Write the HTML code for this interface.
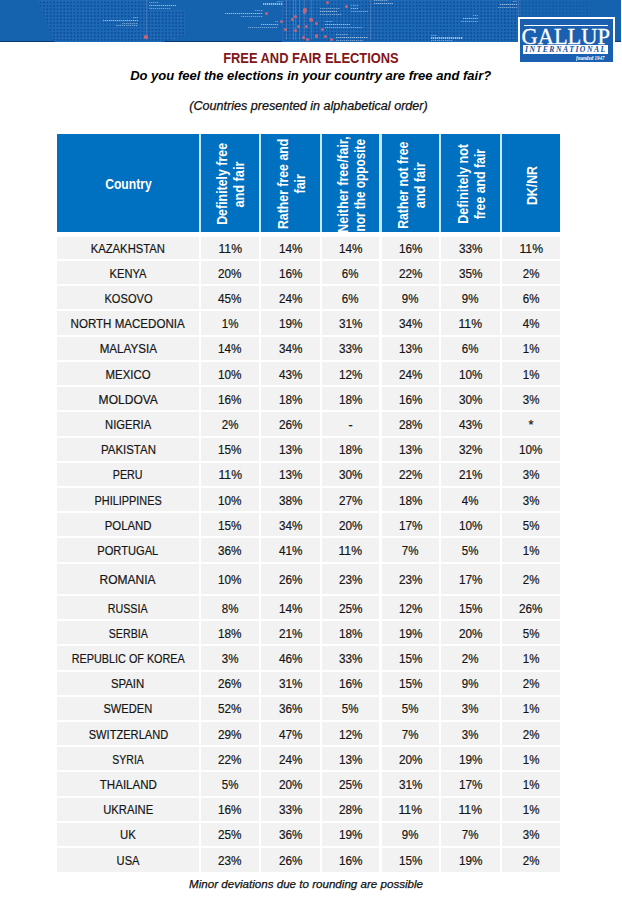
<!DOCTYPE html>
<html><head><meta charset="utf-8">
<style>
html,body{margin:0;padding:0;background:#fff;}
body{width:622px;height:900px;position:relative;overflow:hidden;font-family:"Liberation Sans",sans-serif;}
.s{display:inline-block;white-space:nowrap;transform-origin:50% 50%}
.banner{position:absolute;left:0;top:0;width:620.5px;height:42.4px;background:#1562ae;overflow:hidden;box-shadow:inset 0 -1px 0 rgba(0,30,80,0.6)}
.grid{position:absolute;top:0;height:43px;
 background-image:linear-gradient(to right, #1c69b5 0 1.3px, transparent 1.3px), linear-gradient(to bottom, #1c69b5 0 1.3px, #0f4d9b 1.3px);
 background-size:3.4px 3.4px}
.lb{position:absolute;background:repeating-linear-gradient(90deg,#e8f2ff 0 1.3px,rgba(232,242,255,0.35) 1.3px 2px)}
.rd{position:absolute;width:3.2px;height:3.2px;border-radius:50%;background:#c9647a}
.vl{position:absolute;top:0;width:1px;height:40px;background:rgba(140,150,210,0.35)}
.logo{position:absolute;left:517.5px;top:16.5px;width:93.2px;height:43.5px;border:2px solid #fff;background:#1b5fb0;overflow:hidden}
.lgline{position:absolute;left:4.3px;top:6.8px;width:84.5px;height:1.2px;background:#fff}
.lgt{position:absolute;left:-0.5px;width:94px;top:7px;text-align:center;font-family:"Liberation Serif",serif;font-size:22.7px;line-height:1;color:#fff}
.lgt span{display:inline-block;transform:scaleX(0.99);-webkit-text-stroke:0.3px #fff}
.lgband{position:absolute;left:3.8px;top:26.8px;width:85.2px;height:8.9px;background:#fff;font-family:"Liberation Serif",serif;font-style:italic;font-weight:bold;font-size:8.3px;line-height:8.8px;color:#1b4f9c;letter-spacing:1.6px;text-align:left}
.lgband span{position:absolute;left:2.2px;top:0.8px;transform:scaleX(0.928);transform-origin:0 0;white-space:nowrap}
.lgf{position:absolute;left:56px;top:37px;transform:scaleX(0.86);transform-origin:0 0;font-family:"Liberation Serif",serif;font-style:italic;font-weight:bold;font-size:5.9px;line-height:1;color:#fff;white-space:nowrap}
.t{position:absolute;width:600px;text-align:center;white-space:nowrap;line-height:1}
.hc{position:absolute;background:#0070c0;color:#fff;font-weight:bold;overflow:hidden}
.ctw{position:absolute;left:0;right:0;top:44.3px;text-align:center;font-size:13.8px;line-height:1}
.rot{position:absolute;transform:rotate(-90deg);display:flex;align-items:center;justify-content:center;text-align:center;font-size:13.8px;line-height:16.8px;white-space:nowrap}
.c{position:absolute;background:#f2f2f2;color:#151515;display:flex;align-items:center;justify-content:center;font-size:12.7px;line-height:1}
.c .s{position:relative;top:1.6px;-webkit-text-stroke:0.2px #151515}
</style></head><body>
<div class="banner">
<div class="grid" style="left:38px;width:150px;clip-path:polygon(0 0,112px 0,114px 10px,147px 10px,147px 36px,120px 43px,17px 43px)"></div>
<div class="grid" style="left:282px;width:240px;clip-path:polygon(0 0,100% 0,100% 100%,0 100%)"></div>
<div class="grid" style="left:240px;width:42px;top:0;height:30px;opacity:0.0"></div>
<div class="grid" style="left:520px;width:70px;height:20px;opacity:0.45"></div>
<div class="vl" style="left:146.0px"></div>
<div class="vl" style="left:285.7px"></div>
<div class="vl" style="left:292.7px"></div>
<div class="vl" style="left:295.3px"></div>
<div class="vl" style="left:298.5px"></div>
<div class="vl" style="left:304.3px"></div>
<div class="vl" style="left:310.7px"></div>
<div class="vl" style="left:370.2px"></div>
<div class="vl" style="left:518.0px"></div>
<div class="lb" style="left:148.5px;top:2.0px;width:10px;height:1.0px;opacity:0.42"></div>
<div class="lb" style="left:148.5px;top:4.8px;width:27px;height:1.3px;opacity:0.6"></div>
<div class="lb" style="left:148.5px;top:7.6px;width:22px;height:1.0px;opacity:0.42"></div>
<div class="lb" style="left:133.0px;top:17.0px;width:5px;height:1.0px;opacity:0.42"></div>
<div class="lb" style="left:103.0px;top:19.8px;width:35px;height:1.3px;opacity:0.6"></div>
<div class="lb" style="left:122.0px;top:22.6px;width:16px;height:1.0px;opacity:0.42"></div>
<div class="lb" style="left:116.0px;top:25.4px;width:22px;height:1.0px;opacity:0.42"></div>
<div class="lb" style="left:277.0px;top:0.5px;width:6px;height:1.0px;opacity:0.42"></div>
<div class="lb" style="left:263.0px;top:3.3px;width:20px;height:1.3px;opacity:0.6"></div>
<div class="lb" style="left:255.0px;top:10.0px;width:8px;height:1.0px;opacity:0.42"></div>
<div class="lb" style="left:225.0px;top:12.8px;width:38px;height:1.3px;opacity:0.6"></div>
<div class="lb" style="left:241.0px;top:15.6px;width:22px;height:1.0px;opacity:0.42"></div>
<div class="lb" style="left:275.0px;top:21.0px;width:3px;height:1.0px;opacity:0.42"></div>
<div class="lb" style="left:261.0px;top:23.8px;width:17px;height:1.3px;opacity:0.6"></div>
<div class="lb" style="left:248.0px;top:26.6px;width:30px;height:1.0px;opacity:0.42"></div>
<div class="lb" style="left:320.0px;top:8.0px;width:20px;height:1.0px;opacity:0.42"></div>
<div class="lb" style="left:320.0px;top:10.8px;width:17px;height:1.3px;opacity:0.6"></div>
<div class="lb" style="left:320.0px;top:13.6px;width:22px;height:1.0px;opacity:0.42"></div>
<div class="lb" style="left:351.0px;top:5.0px;width:8px;height:1.0px;opacity:0.42"></div>
<div class="lb" style="left:351.0px;top:7.8px;width:7px;height:1.3px;opacity:0.6"></div>
<div class="lb" style="left:351.0px;top:10.6px;width:17px;height:1.0px;opacity:0.42"></div>
<div class="lb" style="left:325.0px;top:21.0px;width:8px;height:1.0px;opacity:0.42"></div>
<div class="lb" style="left:325.0px;top:23.8px;width:25px;height:1.3px;opacity:0.6"></div>
<div class="lb" style="left:325.0px;top:26.6px;width:38px;height:1.0px;opacity:0.42"></div>
<div class="lb" style="left:336.0px;top:34.0px;width:12px;height:1.0px;opacity:0.42"></div>
<div class="lb" style="left:336.0px;top:36.8px;width:32px;height:1.3px;opacity:0.6"></div>
<div class="lb" style="left:336.0px;top:39.6px;width:27px;height:1.0px;opacity:0.42"></div>
<div class="lb" style="left:374.0px;top:0.0px;width:14px;height:1.0px;opacity:0.42"></div>
<div class="lb" style="left:374.0px;top:2.8px;width:19px;height:1.3px;opacity:0.6"></div>
<div class="lb" style="left:513.0px;top:1.0px;width:4px;height:1.0px;opacity:0.42"></div>
<div class="lb" style="left:500.0px;top:3.8px;width:17px;height:1.3px;opacity:0.6"></div>
<div class="lb" style="left:498.0px;top:6.6px;width:19px;height:1.0px;opacity:0.42"></div>
<div class="lb" style="left:473.0px;top:15.0px;width:5px;height:1.0px;opacity:0.42"></div>
<div class="lb" style="left:463.0px;top:17.8px;width:15px;height:1.3px;opacity:0.6"></div>
<div class="lb" style="left:461.0px;top:20.6px;width:17px;height:1.0px;opacity:0.42"></div>
<div class="lb" style="left:431.0px;top:34.5px;width:6px;height:1.0px;opacity:0.42"></div>
<div class="lb" style="left:431.0px;top:37.3px;width:32px;height:1.3px;opacity:0.6"></div>
<div class="lb" style="left:431.0px;top:40.1px;width:22px;height:1.0px;opacity:0.42"></div>
<div class="rd" style="left:144.4px;top:35.4px"></div>
<div class="rd" style="left:264.8px;top:11.9px"></div>
<div class="rd" style="left:280.2px;top:20.3px"></div>
<div class="rd" style="left:284.1px;top:28.0px"></div>
<div class="rd" style="left:291.1px;top:18.3px"></div>
<div class="rd" style="left:293.7px;top:15.1px"></div>
<div class="rd" style="left:296.9px;top:24.8px"></div>
<div class="rd" style="left:293.7px;top:28.6px"></div>
<div class="rd" style="left:302.7px;top:11.3px"></div>
<div class="rd" style="left:305.3px;top:24.8px"></div>
<div class="rd" style="left:308.5px;top:17.7px"></div>
<div class="rd" style="left:314.9px;top:21.6px"></div>
<div class="rd" style="left:314.9px;top:34.4px"></div>
<div class="rd" style="left:305.9px;top:37.6px"></div>
<div class="rd" style="left:326.1px;top:1.0px"></div>
<div class="rd" style="left:344.8px;top:4.8px"></div>
<div class="rd" style="left:323.5px;top:35.1px"></div>
<div class="rd" style="left:330.0px;top:37.6px"></div>
<div class="rd" style="left:303.4px;top:8.4px"></div>
<div class="rd" style="left:309.6px;top:18.4px"></div>
<div class="rd" style="left:320.8px;top:28.3px"></div>
<div class="rd" style="left:302.1px;top:35.8px"></div>
</div>
<div class="logo"><div class="lgline"></div><div class="lgt"><span>GALLUP</span></div><div class="lgband"><span>INTERNATIONAL</span></div><div class="lgf">founded 1947</div></div>
<div class="t" style="top:49.9px;left:11px;font-size:15.4px;font-weight:bold;color:#821619;"><span class="s" style="transform:scaleX(0.8367);">FREE AND FAIR ELECTIONS</span></div>
<div class="t" style="top:69.1px;left:10.5px;font-size:13.4px;font-weight:bold;font-style:italic;color:#000;"><span class="s" style="transform:scaleX(0.9723);">Do you feel the elections in your country are free and fair?</span></div>
<div class="t" style="top:100.3px;left:8.5px;font-size:12.5px;font-style:italic;color:#111;-webkit-text-stroke:0.25px #111;"><span class="s" style="transform:scaleX(1.0066);">(Countries presented in alphabetical order)</span></div>
<div style="position:absolute;left:57px;top:133.8px;width:503px;height:98.69999999999999px;background:#c4ebfb"></div>
<div class="hc" style="left:57.00px;top:133.80px;width:142.00px;height:98.70px;"><div class="ctw"><span class="s" style="transform:scaleX(0.8793);">Country</span></div></div>
<div class="hc" style="left:201.00px;top:133.80px;width:58.30px;height:98.70px;"><div class="rot" style="width:98.70px;height:58.30px;left:-17.70px;top:21.70px"><div><div class="hl"><span class="s" style="transform:scaleX(0.8976);">Definitely free</span></div><div class="hl"><span class="s" style="transform:scaleX(0.9211);">and fair</span></div></div></div></div>
<div class="hc" style="left:261.30px;top:133.80px;width:58.30px;height:98.70px;"><div class="rot" style="width:98.70px;height:58.30px;left:-17.70px;top:21.70px"><div><div class="hl"><span class="s" style="transform:scaleX(0.8922);">Rather free and</span></div><div class="hl"><span class="s" style="transform:scaleX(0.8989);">fair</span></div></div></div></div>
<div class="hc" style="left:321.60px;top:133.80px;width:57.90px;height:98.70px;"><div class="rot" style="width:98.70px;height:57.90px;left:-17.90px;top:21.90px"><div><div class="hl"><span class="s" style="transform:scaleX(0.9186);">Neither free/fair,</span></div><div class="hl"><span class="s" style="transform:scaleX(0.8559);">nor the opposite</span></div></div></div></div>
<div class="hc" style="left:381.50px;top:133.80px;width:57.90px;height:98.70px;"><div class="rot" style="width:98.70px;height:57.90px;left:-17.90px;top:21.90px"><div><div class="hl"><span class="s" style="transform:scaleX(0.8886);">Rather not free</span></div><div class="hl"><span class="s" style="transform:scaleX(0.9211);">and fair</span></div></div></div></div>
<div class="hc" style="left:441.40px;top:133.80px;width:58.50px;height:98.70px;"><div class="rot" style="width:98.70px;height:58.50px;left:-17.60px;top:21.60px"><div><div class="hl"><span class="s" style="transform:scaleX(0.9144);">Definitely not</span></div><div class="hl"><span class="s" style="transform:scaleX(0.8927);">free and fair</span></div></div></div></div>
<div class="hc" style="left:501.90px;top:133.80px;width:58.10px;height:98.70px;"><div class="rot" style="width:98.70px;height:58.10px;left:-17.80px;top:21.80px"><div><div class="hl"><span class="s" style="transform:scaleX(0.8950);">DK/NR</span></div></div></div></div>
<div class="c" style="left:57.00px;top:237.00px;width:142.00px;height:22.00px;"><span class="s" style="transform:scaleX(0.8876);">KAZAKHSTAN</span></div>
<div class="c" style="left:201.00px;top:237.00px;width:58.30px;height:22.00px;"><span class="s" style="transform:scaleX(0.9628);">11%</span></div>
<div class="c" style="left:261.30px;top:237.00px;width:58.30px;height:22.00px;"><span class="s" style="transform:scaleX(0.9271);">14%</span></div>
<div class="c" style="left:321.60px;top:237.00px;width:57.90px;height:22.00px;"><span class="s" style="transform:scaleX(0.9271);">14%</span></div>
<div class="c" style="left:381.50px;top:237.00px;width:57.90px;height:22.00px;"><span class="s" style="transform:scaleX(0.9271);">16%</span></div>
<div class="c" style="left:441.40px;top:237.00px;width:58.50px;height:22.00px;"><span class="s" style="transform:scaleX(0.9271);">33%</span></div>
<div class="c" style="left:501.90px;top:237.00px;width:58.10px;height:22.00px;"><span class="s" style="transform:scaleX(0.9628);">11%</span></div>
<div class="c" style="left:57.00px;top:261.00px;width:142.00px;height:23.00px;"><span class="s" style="transform:scaleX(0.8793);">KENYA</span></div>
<div class="c" style="left:201.00px;top:261.00px;width:58.30px;height:23.00px;"><span class="s" style="transform:scaleX(0.9271);">20%</span></div>
<div class="c" style="left:261.30px;top:261.00px;width:58.30px;height:23.00px;"><span class="s" style="transform:scaleX(0.9271);">16%</span></div>
<div class="c" style="left:321.60px;top:261.00px;width:57.90px;height:23.00px;"><span class="s" style="transform:scaleX(0.9078);">6%</span></div>
<div class="c" style="left:381.50px;top:261.00px;width:57.90px;height:23.00px;"><span class="s" style="transform:scaleX(0.9271);">22%</span></div>
<div class="c" style="left:441.40px;top:261.00px;width:58.50px;height:23.00px;"><span class="s" style="transform:scaleX(0.9271);">35%</span></div>
<div class="c" style="left:501.90px;top:261.00px;width:58.10px;height:23.00px;"><span class="s" style="transform:scaleX(0.9078);">2%</span></div>
<div class="c" style="left:57.00px;top:286.00px;width:142.00px;height:23.00px;"><span class="s" style="transform:scaleX(0.8735);">KOSOVO</span></div>
<div class="c" style="left:201.00px;top:286.00px;width:58.30px;height:23.00px;"><span class="s" style="transform:scaleX(0.9271);">45%</span></div>
<div class="c" style="left:261.30px;top:286.00px;width:58.30px;height:23.00px;"><span class="s" style="transform:scaleX(0.9271);">24%</span></div>
<div class="c" style="left:321.60px;top:286.00px;width:57.90px;height:23.00px;"><span class="s" style="transform:scaleX(0.9078);">6%</span></div>
<div class="c" style="left:381.50px;top:286.00px;width:57.90px;height:23.00px;"><span class="s" style="transform:scaleX(0.9078);">9%</span></div>
<div class="c" style="left:441.40px;top:286.00px;width:58.50px;height:23.00px;"><span class="s" style="transform:scaleX(0.9078);">9%</span></div>
<div class="c" style="left:501.90px;top:286.00px;width:58.10px;height:23.00px;"><span class="s" style="transform:scaleX(0.9078);">6%</span></div>
<div class="c" style="left:57.00px;top:311.00px;width:142.00px;height:23.50px;"><span class="s" style="transform:scaleX(0.9117);">NORTH MACEDONIA</span></div>
<div class="c" style="left:201.00px;top:311.00px;width:58.30px;height:23.50px;"><span class="s" style="transform:scaleX(0.9078);">1%</span></div>
<div class="c" style="left:261.30px;top:311.00px;width:58.30px;height:23.50px;"><span class="s" style="transform:scaleX(0.9271);">19%</span></div>
<div class="c" style="left:321.60px;top:311.00px;width:57.90px;height:23.50px;"><span class="s" style="transform:scaleX(0.9271);">31%</span></div>
<div class="c" style="left:381.50px;top:311.00px;width:57.90px;height:23.50px;"><span class="s" style="transform:scaleX(0.9271);">34%</span></div>
<div class="c" style="left:441.40px;top:311.00px;width:58.50px;height:23.50px;"><span class="s" style="transform:scaleX(0.9628);">11%</span></div>
<div class="c" style="left:501.90px;top:311.00px;width:58.10px;height:23.50px;"><span class="s" style="transform:scaleX(0.9078);">4%</span></div>
<div class="c" style="left:57.00px;top:336.50px;width:142.00px;height:23.50px;"><span class="s" style="transform:scaleX(0.9158);">MALAYSIA</span></div>
<div class="c" style="left:201.00px;top:336.50px;width:58.30px;height:23.50px;"><span class="s" style="transform:scaleX(0.9271);">14%</span></div>
<div class="c" style="left:261.30px;top:336.50px;width:58.30px;height:23.50px;"><span class="s" style="transform:scaleX(0.9271);">34%</span></div>
<div class="c" style="left:321.60px;top:336.50px;width:57.90px;height:23.50px;"><span class="s" style="transform:scaleX(0.9271);">33%</span></div>
<div class="c" style="left:381.50px;top:336.50px;width:57.90px;height:23.50px;"><span class="s" style="transform:scaleX(0.9271);">13%</span></div>
<div class="c" style="left:441.40px;top:336.50px;width:58.50px;height:23.50px;"><span class="s" style="transform:scaleX(0.9078);">6%</span></div>
<div class="c" style="left:501.90px;top:336.50px;width:58.10px;height:23.50px;"><span class="s" style="transform:scaleX(0.9078);">1%</span></div>
<div class="c" style="left:57.00px;top:362.00px;width:142.00px;height:23.00px;"><span class="s" style="transform:scaleX(0.8991);">MEXICO</span></div>
<div class="c" style="left:201.00px;top:362.00px;width:58.30px;height:23.00px;"><span class="s" style="transform:scaleX(0.9271);">10%</span></div>
<div class="c" style="left:261.30px;top:362.00px;width:58.30px;height:23.00px;"><span class="s" style="transform:scaleX(0.9271);">43%</span></div>
<div class="c" style="left:321.60px;top:362.00px;width:57.90px;height:23.00px;"><span class="s" style="transform:scaleX(0.9271);">12%</span></div>
<div class="c" style="left:381.50px;top:362.00px;width:57.90px;height:23.00px;"><span class="s" style="transform:scaleX(0.9271);">24%</span></div>
<div class="c" style="left:441.40px;top:362.00px;width:58.50px;height:23.00px;"><span class="s" style="transform:scaleX(0.9271);">10%</span></div>
<div class="c" style="left:501.90px;top:362.00px;width:58.10px;height:23.00px;"><span class="s" style="transform:scaleX(0.9078);">1%</span></div>
<div class="c" style="left:57.00px;top:387.00px;width:142.00px;height:23.00px;"><span class="s" style="transform:scaleX(0.9486);">MOLDOVA</span></div>
<div class="c" style="left:201.00px;top:387.00px;width:58.30px;height:23.00px;"><span class="s" style="transform:scaleX(0.9271);">16%</span></div>
<div class="c" style="left:261.30px;top:387.00px;width:58.30px;height:23.00px;"><span class="s" style="transform:scaleX(0.9271);">18%</span></div>
<div class="c" style="left:321.60px;top:387.00px;width:57.90px;height:23.00px;"><span class="s" style="transform:scaleX(0.9271);">18%</span></div>
<div class="c" style="left:381.50px;top:387.00px;width:57.90px;height:23.00px;"><span class="s" style="transform:scaleX(0.9271);">16%</span></div>
<div class="c" style="left:441.40px;top:387.00px;width:58.50px;height:23.00px;"><span class="s" style="transform:scaleX(0.9271);">30%</span></div>
<div class="c" style="left:501.90px;top:387.00px;width:58.10px;height:23.00px;"><span class="s" style="transform:scaleX(0.9078);">3%</span></div>
<div class="c" style="left:57.00px;top:412.00px;width:142.00px;height:23.50px;"><span class="s" style="transform:scaleX(0.8840);">NIGERIA</span></div>
<div class="c" style="left:201.00px;top:412.00px;width:58.30px;height:23.50px;"><span class="s" style="transform:scaleX(0.9078);">2%</span></div>
<div class="c" style="left:261.30px;top:412.00px;width:58.30px;height:23.50px;"><span class="s" style="transform:scaleX(0.9271);">26%</span></div>
<div class="c" style="left:321.60px;top:412.00px;width:57.90px;height:23.50px;"><span class="s" style="transform:scaleX(1.0000);">-</span></div>
<div class="c" style="left:381.50px;top:412.00px;width:57.90px;height:23.50px;"><span class="s" style="transform:scaleX(0.9271);">28%</span></div>
<div class="c" style="left:441.40px;top:412.00px;width:58.50px;height:23.50px;"><span class="s" style="transform:scaleX(0.9271);">43%</span></div>
<div class="c" style="left:501.90px;top:412.00px;width:58.10px;height:23.50px;"><span class="s" style="transform:scaleX(1.0000);">*</span></div>
<div class="c" style="left:57.00px;top:437.50px;width:142.00px;height:23.00px;"><span class="s" style="transform:scaleX(0.9025);">PAKISTAN</span></div>
<div class="c" style="left:201.00px;top:437.50px;width:58.30px;height:23.00px;"><span class="s" style="transform:scaleX(0.9271);">15%</span></div>
<div class="c" style="left:261.30px;top:437.50px;width:58.30px;height:23.00px;"><span class="s" style="transform:scaleX(0.9271);">13%</span></div>
<div class="c" style="left:321.60px;top:437.50px;width:57.90px;height:23.00px;"><span class="s" style="transform:scaleX(0.9271);">18%</span></div>
<div class="c" style="left:381.50px;top:437.50px;width:57.90px;height:23.00px;"><span class="s" style="transform:scaleX(0.9271);">13%</span></div>
<div class="c" style="left:441.40px;top:437.50px;width:58.50px;height:23.00px;"><span class="s" style="transform:scaleX(0.9271);">32%</span></div>
<div class="c" style="left:501.90px;top:437.50px;width:58.10px;height:23.00px;"><span class="s" style="transform:scaleX(0.9271);">10%</span></div>
<div class="c" style="left:57.00px;top:462.50px;width:142.00px;height:23.50px;"><span class="s" style="transform:scaleX(0.8449);">PERU</span></div>
<div class="c" style="left:201.00px;top:462.50px;width:58.30px;height:23.50px;"><span class="s" style="transform:scaleX(0.9628);">11%</span></div>
<div class="c" style="left:261.30px;top:462.50px;width:58.30px;height:23.50px;"><span class="s" style="transform:scaleX(0.9271);">13%</span></div>
<div class="c" style="left:321.60px;top:462.50px;width:57.90px;height:23.50px;"><span class="s" style="transform:scaleX(0.9271);">30%</span></div>
<div class="c" style="left:381.50px;top:462.50px;width:57.90px;height:23.50px;"><span class="s" style="transform:scaleX(0.9271);">22%</span></div>
<div class="c" style="left:441.40px;top:462.50px;width:58.50px;height:23.50px;"><span class="s" style="transform:scaleX(0.9271);">21%</span></div>
<div class="c" style="left:501.90px;top:462.50px;width:58.10px;height:23.50px;"><span class="s" style="transform:scaleX(0.9078);">3%</span></div>
<div class="c" style="left:57.00px;top:488.00px;width:142.00px;height:23.00px;"><span class="s" style="transform:scaleX(0.8589);">PHILIPPINES</span></div>
<div class="c" style="left:201.00px;top:488.00px;width:58.30px;height:23.00px;"><span class="s" style="transform:scaleX(0.9271);">10%</span></div>
<div class="c" style="left:261.30px;top:488.00px;width:58.30px;height:23.00px;"><span class="s" style="transform:scaleX(0.9271);">38%</span></div>
<div class="c" style="left:321.60px;top:488.00px;width:57.90px;height:23.00px;"><span class="s" style="transform:scaleX(0.9271);">27%</span></div>
<div class="c" style="left:381.50px;top:488.00px;width:57.90px;height:23.00px;"><span class="s" style="transform:scaleX(0.9271);">18%</span></div>
<div class="c" style="left:441.40px;top:488.00px;width:58.50px;height:23.00px;"><span class="s" style="transform:scaleX(0.9078);">4%</span></div>
<div class="c" style="left:501.90px;top:488.00px;width:58.10px;height:23.00px;"><span class="s" style="transform:scaleX(0.9078);">3%</span></div>
<div class="c" style="left:57.00px;top:513.00px;width:142.00px;height:23.00px;"><span class="s" style="transform:scaleX(0.8964);">POLAND</span></div>
<div class="c" style="left:201.00px;top:513.00px;width:58.30px;height:23.00px;"><span class="s" style="transform:scaleX(0.9271);">15%</span></div>
<div class="c" style="left:261.30px;top:513.00px;width:58.30px;height:23.00px;"><span class="s" style="transform:scaleX(0.9271);">34%</span></div>
<div class="c" style="left:321.60px;top:513.00px;width:57.90px;height:23.00px;"><span class="s" style="transform:scaleX(0.9271);">20%</span></div>
<div class="c" style="left:381.50px;top:513.00px;width:57.90px;height:23.00px;"><span class="s" style="transform:scaleX(0.9271);">17%</span></div>
<div class="c" style="left:441.40px;top:513.00px;width:58.50px;height:23.00px;"><span class="s" style="transform:scaleX(0.9271);">10%</span></div>
<div class="c" style="left:501.90px;top:513.00px;width:58.10px;height:23.00px;"><span class="s" style="transform:scaleX(0.9078);">5%</span></div>
<div class="c" style="left:57.00px;top:538.00px;width:142.00px;height:24.00px;"><span class="s" style="transform:scaleX(0.8760);">PORTUGAL</span></div>
<div class="c" style="left:201.00px;top:538.00px;width:58.30px;height:24.00px;"><span class="s" style="transform:scaleX(0.9271);">36%</span></div>
<div class="c" style="left:261.30px;top:538.00px;width:58.30px;height:24.00px;"><span class="s" style="transform:scaleX(0.9271);">41%</span></div>
<div class="c" style="left:321.60px;top:538.00px;width:57.90px;height:24.00px;"><span class="s" style="transform:scaleX(0.9628);">11%</span></div>
<div class="c" style="left:381.50px;top:538.00px;width:57.90px;height:24.00px;"><span class="s" style="transform:scaleX(0.9078);">7%</span></div>
<div class="c" style="left:441.40px;top:538.00px;width:58.50px;height:24.00px;"><span class="s" style="transform:scaleX(0.9078);">5%</span></div>
<div class="c" style="left:501.90px;top:538.00px;width:58.10px;height:24.00px;"><span class="s" style="transform:scaleX(0.9078);">1%</span></div>
<div class="c" style="left:57.00px;top:564.00px;width:142.00px;height:30.00px;"><span class="s" style="transform:scaleX(0.9454);">ROMANIA</span></div>
<div class="c" style="left:201.00px;top:564.00px;width:58.30px;height:30.00px;"><span class="s" style="transform:scaleX(0.9271);">10%</span></div>
<div class="c" style="left:261.30px;top:564.00px;width:58.30px;height:30.00px;"><span class="s" style="transform:scaleX(0.9271);">26%</span></div>
<div class="c" style="left:321.60px;top:564.00px;width:57.90px;height:30.00px;"><span class="s" style="transform:scaleX(0.9271);">23%</span></div>
<div class="c" style="left:381.50px;top:564.00px;width:57.90px;height:30.00px;"><span class="s" style="transform:scaleX(0.9271);">23%</span></div>
<div class="c" style="left:441.40px;top:564.00px;width:58.50px;height:30.00px;"><span class="s" style="transform:scaleX(0.9271);">17%</span></div>
<div class="c" style="left:501.90px;top:564.00px;width:58.10px;height:30.00px;"><span class="s" style="transform:scaleX(0.9078);">2%</span></div>
<div class="c" style="left:57.00px;top:596.00px;width:142.00px;height:23.00px;"><span class="s" style="transform:scaleX(0.8447);">RUSSIA</span></div>
<div class="c" style="left:201.00px;top:596.00px;width:58.30px;height:23.00px;"><span class="s" style="transform:scaleX(0.9078);">8%</span></div>
<div class="c" style="left:261.30px;top:596.00px;width:58.30px;height:23.00px;"><span class="s" style="transform:scaleX(0.9271);">14%</span></div>
<div class="c" style="left:321.60px;top:596.00px;width:57.90px;height:23.00px;"><span class="s" style="transform:scaleX(0.9271);">25%</span></div>
<div class="c" style="left:381.50px;top:596.00px;width:57.90px;height:23.00px;"><span class="s" style="transform:scaleX(0.9271);">12%</span></div>
<div class="c" style="left:441.40px;top:596.00px;width:58.50px;height:23.00px;"><span class="s" style="transform:scaleX(0.9271);">15%</span></div>
<div class="c" style="left:501.90px;top:596.00px;width:58.10px;height:23.00px;"><span class="s" style="transform:scaleX(0.9271);">26%</span></div>
<div class="c" style="left:57.00px;top:621.00px;width:142.00px;height:23.00px;"><span class="s" style="transform:scaleX(0.8373);">SERBIA</span></div>
<div class="c" style="left:201.00px;top:621.00px;width:58.30px;height:23.00px;"><span class="s" style="transform:scaleX(0.9271);">18%</span></div>
<div class="c" style="left:261.30px;top:621.00px;width:58.30px;height:23.00px;"><span class="s" style="transform:scaleX(0.9271);">21%</span></div>
<div class="c" style="left:321.60px;top:621.00px;width:57.90px;height:23.00px;"><span class="s" style="transform:scaleX(0.9271);">18%</span></div>
<div class="c" style="left:381.50px;top:621.00px;width:57.90px;height:23.00px;"><span class="s" style="transform:scaleX(0.9271);">19%</span></div>
<div class="c" style="left:441.40px;top:621.00px;width:58.50px;height:23.00px;"><span class="s" style="transform:scaleX(0.9271);">20%</span></div>
<div class="c" style="left:501.90px;top:621.00px;width:58.10px;height:23.00px;"><span class="s" style="transform:scaleX(0.9078);">5%</span></div>
<div class="c" style="left:57.00px;top:646.00px;width:142.00px;height:23.50px;"><span class="s" style="transform:scaleX(0.8521);">REPUBLIC OF KOREA</span></div>
<div class="c" style="left:201.00px;top:646.00px;width:58.30px;height:23.50px;"><span class="s" style="transform:scaleX(0.9078);">3%</span></div>
<div class="c" style="left:261.30px;top:646.00px;width:58.30px;height:23.50px;"><span class="s" style="transform:scaleX(0.9271);">46%</span></div>
<div class="c" style="left:321.60px;top:646.00px;width:57.90px;height:23.50px;"><span class="s" style="transform:scaleX(0.9271);">33%</span></div>
<div class="c" style="left:381.50px;top:646.00px;width:57.90px;height:23.50px;"><span class="s" style="transform:scaleX(0.9271);">15%</span></div>
<div class="c" style="left:441.40px;top:646.00px;width:58.50px;height:23.50px;"><span class="s" style="transform:scaleX(0.9078);">2%</span></div>
<div class="c" style="left:501.90px;top:646.00px;width:58.10px;height:23.50px;"><span class="s" style="transform:scaleX(0.9078);">1%</span></div>
<div class="c" style="left:57.00px;top:671.50px;width:142.00px;height:23.00px;"><span class="s" style="transform:scaleX(0.8984);">SPAIN</span></div>
<div class="c" style="left:201.00px;top:671.50px;width:58.30px;height:23.00px;"><span class="s" style="transform:scaleX(0.9271);">26%</span></div>
<div class="c" style="left:261.30px;top:671.50px;width:58.30px;height:23.00px;"><span class="s" style="transform:scaleX(0.9271);">31%</span></div>
<div class="c" style="left:321.60px;top:671.50px;width:57.90px;height:23.00px;"><span class="s" style="transform:scaleX(0.9271);">16%</span></div>
<div class="c" style="left:381.50px;top:671.50px;width:57.90px;height:23.00px;"><span class="s" style="transform:scaleX(0.9271);">15%</span></div>
<div class="c" style="left:441.40px;top:671.50px;width:58.50px;height:23.00px;"><span class="s" style="transform:scaleX(0.9078);">9%</span></div>
<div class="c" style="left:501.90px;top:671.50px;width:58.10px;height:23.00px;"><span class="s" style="transform:scaleX(0.9078);">2%</span></div>
<div class="c" style="left:57.00px;top:696.50px;width:142.00px;height:23.50px;"><span class="s" style="transform:scaleX(0.8758);">SWEDEN</span></div>
<div class="c" style="left:201.00px;top:696.50px;width:58.30px;height:23.50px;"><span class="s" style="transform:scaleX(0.9271);">52%</span></div>
<div class="c" style="left:261.30px;top:696.50px;width:58.30px;height:23.50px;"><span class="s" style="transform:scaleX(0.9271);">36%</span></div>
<div class="c" style="left:321.60px;top:696.50px;width:57.90px;height:23.50px;"><span class="s" style="transform:scaleX(0.9078);">5%</span></div>
<div class="c" style="left:381.50px;top:696.50px;width:57.90px;height:23.50px;"><span class="s" style="transform:scaleX(0.9078);">5%</span></div>
<div class="c" style="left:441.40px;top:696.50px;width:58.50px;height:23.50px;"><span class="s" style="transform:scaleX(0.9078);">3%</span></div>
<div class="c" style="left:501.90px;top:696.50px;width:58.10px;height:23.50px;"><span class="s" style="transform:scaleX(0.9078);">1%</span></div>
<div class="c" style="left:57.00px;top:722.00px;width:142.00px;height:23.00px;"><span class="s" style="transform:scaleX(0.8745);">SWITZERLAND</span></div>
<div class="c" style="left:201.00px;top:722.00px;width:58.30px;height:23.00px;"><span class="s" style="transform:scaleX(0.9271);">29%</span></div>
<div class="c" style="left:261.30px;top:722.00px;width:58.30px;height:23.00px;"><span class="s" style="transform:scaleX(0.9271);">47%</span></div>
<div class="c" style="left:321.60px;top:722.00px;width:57.90px;height:23.00px;"><span class="s" style="transform:scaleX(0.9271);">12%</span></div>
<div class="c" style="left:381.50px;top:722.00px;width:57.90px;height:23.00px;"><span class="s" style="transform:scaleX(0.9078);">7%</span></div>
<div class="c" style="left:441.40px;top:722.00px;width:58.50px;height:23.00px;"><span class="s" style="transform:scaleX(0.9078);">3%</span></div>
<div class="c" style="left:501.90px;top:722.00px;width:58.10px;height:23.00px;"><span class="s" style="transform:scaleX(0.9078);">2%</span></div>
<div class="c" style="left:57.00px;top:747.00px;width:142.00px;height:23.00px;"><span class="s" style="transform:scaleX(0.8287);">SYRIA</span></div>
<div class="c" style="left:201.00px;top:747.00px;width:58.30px;height:23.00px;"><span class="s" style="transform:scaleX(0.9271);">22%</span></div>
<div class="c" style="left:261.30px;top:747.00px;width:58.30px;height:23.00px;"><span class="s" style="transform:scaleX(0.9271);">24%</span></div>
<div class="c" style="left:321.60px;top:747.00px;width:57.90px;height:23.00px;"><span class="s" style="transform:scaleX(0.9271);">13%</span></div>
<div class="c" style="left:381.50px;top:747.00px;width:57.90px;height:23.00px;"><span class="s" style="transform:scaleX(0.9271);">20%</span></div>
<div class="c" style="left:441.40px;top:747.00px;width:58.50px;height:23.00px;"><span class="s" style="transform:scaleX(0.9271);">19%</span></div>
<div class="c" style="left:501.90px;top:747.00px;width:58.10px;height:23.00px;"><span class="s" style="transform:scaleX(0.9078);">1%</span></div>
<div class="c" style="left:57.00px;top:772.00px;width:142.00px;height:23.50px;"><span class="s" style="transform:scaleX(0.9106);">THAILAND</span></div>
<div class="c" style="left:201.00px;top:772.00px;width:58.30px;height:23.50px;"><span class="s" style="transform:scaleX(0.9078);">5%</span></div>
<div class="c" style="left:261.30px;top:772.00px;width:58.30px;height:23.50px;"><span class="s" style="transform:scaleX(0.9271);">20%</span></div>
<div class="c" style="left:321.60px;top:772.00px;width:57.90px;height:23.50px;"><span class="s" style="transform:scaleX(0.9271);">25%</span></div>
<div class="c" style="left:381.50px;top:772.00px;width:57.90px;height:23.50px;"><span class="s" style="transform:scaleX(0.9271);">31%</span></div>
<div class="c" style="left:441.40px;top:772.00px;width:58.50px;height:23.50px;"><span class="s" style="transform:scaleX(0.9271);">17%</span></div>
<div class="c" style="left:501.90px;top:772.00px;width:58.10px;height:23.50px;"><span class="s" style="transform:scaleX(0.9078);">1%</span></div>
<div class="c" style="left:57.00px;top:797.50px;width:142.00px;height:23.00px;"><span class="s" style="transform:scaleX(0.8850);">UKRAINE</span></div>
<div class="c" style="left:201.00px;top:797.50px;width:58.30px;height:23.00px;"><span class="s" style="transform:scaleX(0.9271);">16%</span></div>
<div class="c" style="left:261.30px;top:797.50px;width:58.30px;height:23.00px;"><span class="s" style="transform:scaleX(0.9271);">33%</span></div>
<div class="c" style="left:321.60px;top:797.50px;width:57.90px;height:23.00px;"><span class="s" style="transform:scaleX(0.9271);">28%</span></div>
<div class="c" style="left:381.50px;top:797.50px;width:57.90px;height:23.00px;"><span class="s" style="transform:scaleX(0.9628);">11%</span></div>
<div class="c" style="left:441.40px;top:797.50px;width:58.50px;height:23.00px;"><span class="s" style="transform:scaleX(0.9628);">11%</span></div>
<div class="c" style="left:501.90px;top:797.50px;width:58.10px;height:23.00px;"><span class="s" style="transform:scaleX(0.9078);">1%</span></div>
<div class="c" style="left:57.00px;top:822.50px;width:142.00px;height:23.00px;"><span class="s" style="transform:scaleX(0.8966);">UK</span></div>
<div class="c" style="left:201.00px;top:822.50px;width:58.30px;height:23.00px;"><span class="s" style="transform:scaleX(0.9271);">25%</span></div>
<div class="c" style="left:261.30px;top:822.50px;width:58.30px;height:23.00px;"><span class="s" style="transform:scaleX(0.9271);">36%</span></div>
<div class="c" style="left:321.60px;top:822.50px;width:57.90px;height:23.00px;"><span class="s" style="transform:scaleX(0.9271);">19%</span></div>
<div class="c" style="left:381.50px;top:822.50px;width:57.90px;height:23.00px;"><span class="s" style="transform:scaleX(0.9078);">9%</span></div>
<div class="c" style="left:441.40px;top:822.50px;width:58.50px;height:23.00px;"><span class="s" style="transform:scaleX(0.9078);">7%</span></div>
<div class="c" style="left:501.90px;top:822.50px;width:58.10px;height:23.00px;"><span class="s" style="transform:scaleX(0.9078);">3%</span></div>
<div class="c" style="left:57.00px;top:847.50px;width:142.00px;height:24.00px;"><span class="s" style="transform:scaleX(0.8758);">USA</span></div>
<div class="c" style="left:201.00px;top:847.50px;width:58.30px;height:24.00px;"><span class="s" style="transform:scaleX(0.9271);">23%</span></div>
<div class="c" style="left:261.30px;top:847.50px;width:58.30px;height:24.00px;"><span class="s" style="transform:scaleX(0.9271);">26%</span></div>
<div class="c" style="left:321.60px;top:847.50px;width:57.90px;height:24.00px;"><span class="s" style="transform:scaleX(0.9271);">16%</span></div>
<div class="c" style="left:381.50px;top:847.50px;width:57.90px;height:24.00px;"><span class="s" style="transform:scaleX(0.9271);">15%</span></div>
<div class="c" style="left:441.40px;top:847.50px;width:58.50px;height:24.00px;"><span class="s" style="transform:scaleX(0.9271);">19%</span></div>
<div class="c" style="left:501.90px;top:847.50px;width:58.10px;height:24.00px;"><span class="s" style="transform:scaleX(0.9078);">2%</span></div>
<div class="t" style="top:878.7px;left:6px;font-size:11.5px;font-style:italic;color:#111;-webkit-text-stroke:0.25px #111;"><span class="s" style="transform:scaleX(1.0084);">Minor deviations due to rounding are possible</span></div>
</body></html>
